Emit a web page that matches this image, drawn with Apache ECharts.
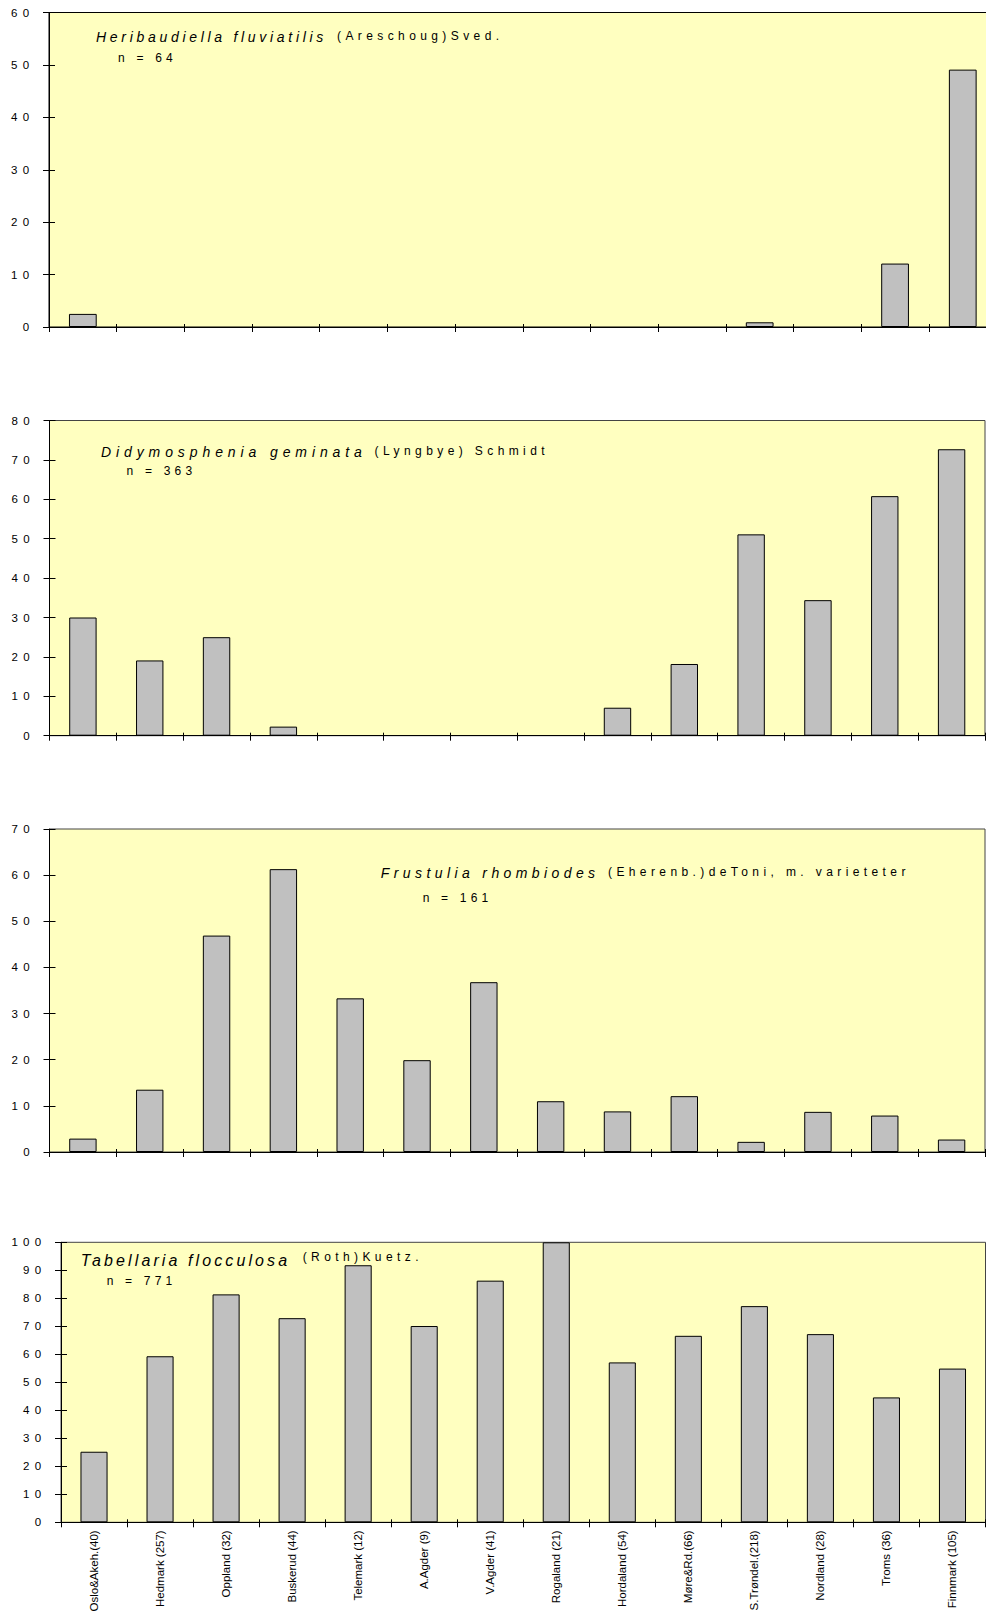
<!DOCTYPE html>
<html>
<head>
<meta charset="utf-8">
<script src="https://cdn.jsdelivr.net/npm/echarts@6/dist/echarts.min.js"></script>
<style>
html,body{margin:0;padding:0;background:#fff;}
#chart{width:986px;height:1613px;}
</style>
</head>
<body>
<div id="chart"></div>
<script>
// ---------- data ----------
const categories = ['Oslo&Akeh.(40)','Hedmark (257)','Oppland (32)','Buskerud (44)','Telemark (12)','A.Agder (9)','V.Agder (41)','Rogaland (21)','Hordaland (54)','Møre&Rd.(66)','S.Trøndel.(218)','Nordland (28)','Troms (36)','Finnmark (105)'];
const heribaudiella = [2.5,0,0,0,0,0,0,0,0,0,0.9,0,12.1,49.1];
const didymosphenia = [30.0,19.1,25.0,2.3,0,0,0,0,7.1,18.2,51.1,34.4,60.8,72.7];
const frustulia = [2.9,13.5,46.9,61.3,33.3,19.9,36.8,11.0,8.8,12.1,2.2,8.7,7.9,2.7];
const tabellaria = [25.2,59.3,81.4,72.9,91.8,70.1,86.3,100,57.1,66.6,77.2,67.2,44.6,54.9];
const yAxisMax = [60, 80, 70, 100];
const yAxisInterval = 10;
const titleItalic = ['Heribaudiella fluviatilis','Didymosphenia geminata','Frustulia rhombiodes','Tabellaria flocculosa'];
const titleAuthor = ['(Areschoug)Sved.','(Lyngbye) Schmidt','(Eherenb.)deToni, m. varieteter','(Roth)Kuetz.'];
const sampleN = ['n = 64','n = 363','n = 161','n = 771'];

// ---------- layout ----------
const seriesData = [heribaudiella, didymosphenia, frustulia, tabellaria];
const grids = [
  {left:49, top:12.5, width:947.6, height:314.5},
  {left:49.5, top:420.5, width:935.5, height:315.2},
  {left:49.5, top:829, width:935.5, height:323},
  {left:61, top:1242.3, width:924.5, height:280}
];
const titleLayout = [
  {ix:96, iy:36.5, isz:14, isp:3.7, ax:337, ay:36, nx:118, ny:58},
  {ix:101, iy:452, isz:14, isp:4.9, ax:374.6, ay:450.5, nx:126.6, ny:471},
  {ix:380.8, iy:873, isz:14, isp:4.4, ax:608, ay:871.5, nx:422.7, ny:898},
  {ix:80.7, iy:1260, isz:16, isp:3.1, ax:302.7, ay:1257, nx:106.7, ny:1280.7}
];
const FONT = '"Liberation Sans", Arial, sans-serif';
const spacing = {};

const xAxes = [], yAxes = [], series = [], graphics = [];
grids.forEach((g, i) => {
  const isLast = i === grids.length - 1;
  xAxes.push({
    type:'category', gridIndex:i, data:categories, boundaryGap:true, position:'bottom',
    axisLine:{show:true, lineStyle:{color:'#000', width:1}},
    axisTick:{show:true, inside:false, length:5, interval:0, lineStyle:{color:'#000'}},
    axisLabel:{show:isLast, rotate:90, interval:0, margin:8, color:'#000', fontSize:11.5, fontFamily:FONT},
    splitLine:{show:false}, z:5
  });
  yAxes.push({
    type:'value', gridIndex:i, min:0, max:yAxisMax[i], interval:yAxisInterval,
    axisLine:{show:true, lineStyle:{color:'#000', width:1}},
    axisTick:{show:true, inside:false, length:6, lineStyle:{color:'#000'}},
    axisLabel:{show:true, margin:14.5, color:'#000', fontSize:11.5, fontFamily:FONT},
    splitLine:{show:false}, z:5
  });
  series.push({
    type:'bar', xAxisIndex:i, yAxisIndex:i, barWidth:'41%',
    data: seriesData[i].map(v => v === 0 ? {value:v, itemStyle:{borderWidth:0, color:'rgba(0,0,0,0)'}} : v),
    itemStyle:{color:'#c0c0c0', borderColor:'#000', borderWidth:1},
    silent:true
  });
  const L = titleLayout[i];
  graphics.push({type:'text', x:L.ix, y:L.iy, silent:true, style:{text:titleItalic[i], fill:'#000', font:'italic ' + L.isz + 'px ' + FONT, verticalAlign:'middle', textVerticalAlign:'middle'}});
  graphics.push({type:'text', x:L.ax, y:L.ay, silent:true, style:{text:titleAuthor[i], fill:'#000', font:'12px ' + FONT, verticalAlign:'middle', textVerticalAlign:'middle'}});
  graphics.push({type:'text', x:L.nx, y:L.ny, silent:true, style:{text:sampleN[i], fill:'#000', font:'12px ' + FONT, verticalAlign:'middle', textVerticalAlign:'middle'}});
  spacing[titleItalic[i]] = L.isp;
  spacing[titleAuthor[i]] = 4.4;
  spacing[sampleN[i]] = 4.2;
});
// duplicate axes to get ticks crossing the axis lines
grids.forEach((g, i) => {
  xAxes.push({
    type:'category', gridIndex:i, data:categories, boundaryGap:true, position:'bottom',
    axisLine:{show:false}, axisLabel:{show:false}, splitLine:{show:false},
    axisTick:{show:true, inside:true, length:3, interval:0, lineStyle:{color:'#000'}}
  });
  yAxes.push({
    type:'value', gridIndex:i, min:0, max:yAxisMax[i], interval:yAxisInterval, position:'left',
    axisLine:{show:false}, axisLabel:{show:false}, splitLine:{show:false},
    axisTick:{show:true, inside:true, length:6, lineStyle:{color:'#000'}}
  });
});

const chart = echarts.init(document.getElementById('chart'), null, {renderer:'svg', width:986, height:1613});
chart.setOption({
  animation:false,
  backgroundColor:'#ffffff',
  grid: grids.map((g, i) => Object.assign({show:true, backgroundColor:'#ffffc0', borderColor: i === 0 ? '#000' : '#444', borderWidth:1, containLabel:false, outerBoundsMode:'none'}, g)),
  xAxis: xAxes,
  yAxis: yAxes,
  series: series,
  graphic: graphics
});

function applySpacing(){
  document.querySelectorAll('#chart svg text').forEach(t => {
    const s = t.textContent;
    if (spacing[s] !== undefined) t.style.letterSpacing = spacing[s] + 'px';
    else if (/^\d+$/.test(s)) t.style.letterSpacing = '5.3px';
  });
}
chart.on('finished', applySpacing);
applySpacing();
requestAnimationFrame(() => { applySpacing(); requestAnimationFrame(applySpacing); });
setTimeout(applySpacing, 50);
setTimeout(applySpacing, 300);
</script>
</body>
</html>
